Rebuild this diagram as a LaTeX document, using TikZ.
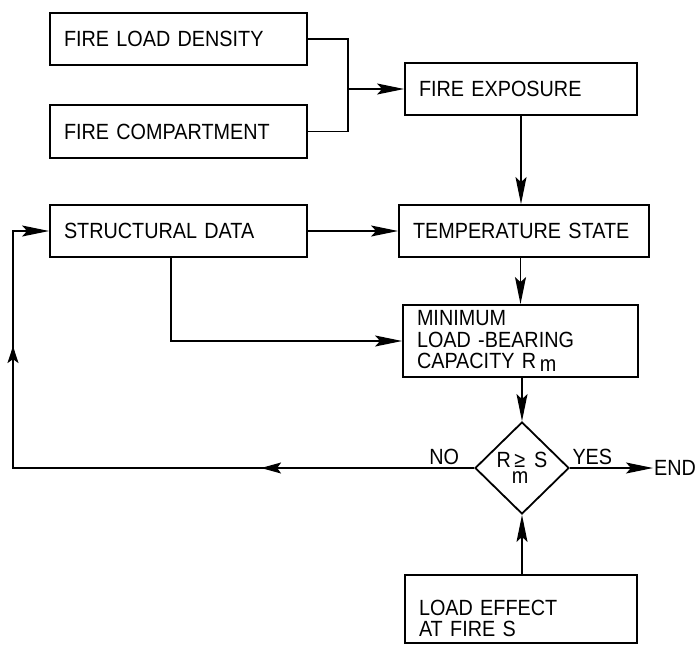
\documentclass[tikz,border=0pt]{standalone}
\usepackage{fontspec}
\setmainfont{Liberation Sans}[FakeStretch=0.9]
\usetikzlibrary{arrows.meta,calc,shapes.geometric,decorations.markings}
\tikzset{
  %% flow chart block
  fblk/.style={rectangle,draw,line width=1.8pt,inner xsep=14pt,inner ysep=0pt,
    align=left,font=\fontsize{22}{21.5}\selectfont},
  %% decision diamond
  dblk/.style={diamond,draw,line width=1.8pt,minimum width=94pt,minimum height=92pt,
    inner sep=0pt,font=\fontsize{22}{21.5}\selectfont},
  %% arrows
  arr/.style={-{Stealth[length=27pt,width=11pt,inset=5pt]},line width=1.4pt},
  ln/.style={line width=1.4pt},
  lbl/.style={font=\fontsize{22}{21.5}\selectfont,inner sep=3pt},
  %% feedback line, arrows along it
  fbk/.style={arr,postaction={decorate},decoration={markings,
    mark=at position 213pt with {\arrow{Stealth[length=20pt,width=11pt,inset=4pt]}},
    mark=at position 583pt with {\arrow{Stealth[length=17pt,width=11pt,inset=4pt]}}}},
}
\begin{document}
\begin{tikzpicture}[x=1pt,y=-1pt]
  \useasboundingbox (0,0) rectangle (696,646);
  \node[fblk,text width=229pt,minimum height=52pt] (fld)    at (178.5,39)  {FIRE LOAD DENSITY};
  \node[fblk,text width=229pt,minimum height=53pt] (fc)     at (178.5,131.5) {FIRE COMPARTMENT};
  \node[fblk,text width=204pt,minimum height=52pt] (fexp)   at (521,89)    {FIRE EXPOSURE};
  \node[fblk,text width=229pt,minimum height=52pt] (sdata)  at (178.5,231) {STRUCTURAL DATA};
  \node[fblk,text width=222pt,minimum height=52pt] (tstate) at (524,231)   {TEMPERATURE STATE};
  \node[fblk,text width=207pt,minimum height=72pt] (minc)   at (520.5,341)
    {MINIMUM\\LOAD -BEARING\\CAPACITY R\,\raisebox{-3pt}{m}};
  \node[dblk] (dia) at (522,468)
    {R\hspace{1pt}\makebox[0pt][l]{\raisebox{-16pt}{m}}\hspace{2.5pt}≥\hspace{9pt}S};
  \node[fblk,text width=204pt,minimum height=68pt] (leff)   at (521,609)
    {\rule{0pt}{34pt}LOAD EFFECT\\AT FIRE S};
  \node[lbl,anchor=west,inner sep=1pt] (endn) at (653,468) {END};

  \coordinate (jn) at (348,89);
  \coordinate (lc) at (13,468);
  \coordinate (tc) at (13,231);

  \draw[ln]  (fld.east) -| (jn) |- (fc.east);
  \draw[arr] (jn) -- (fexp.west);
  \draw[arr] (fexp.south) -- (fexp.south |- tstate.north);
  \draw[arr] (sdata.east) -- (tstate.west);
  \draw[arr] (minc.north |- tstate.south) -- (minc.north);
  \draw[arr] ([xshift=-7.5pt]sdata.south) |- (minc.west);
  \draw[arr] (dia.north |- minc.south) -- (dia.north);
  \draw[arr] (dia.south |- leff.north) -- (dia.south);
  \draw[arr] (dia.east) -- node[lbl,above,pos=0.27]{YES} (endn.west);
  \draw[fbk] (dia.west) -- node[lbl,above,pos=0.065]{NO} (lc) -- (tc) -- (sdata.west);
\end{tikzpicture}
\end{document}
